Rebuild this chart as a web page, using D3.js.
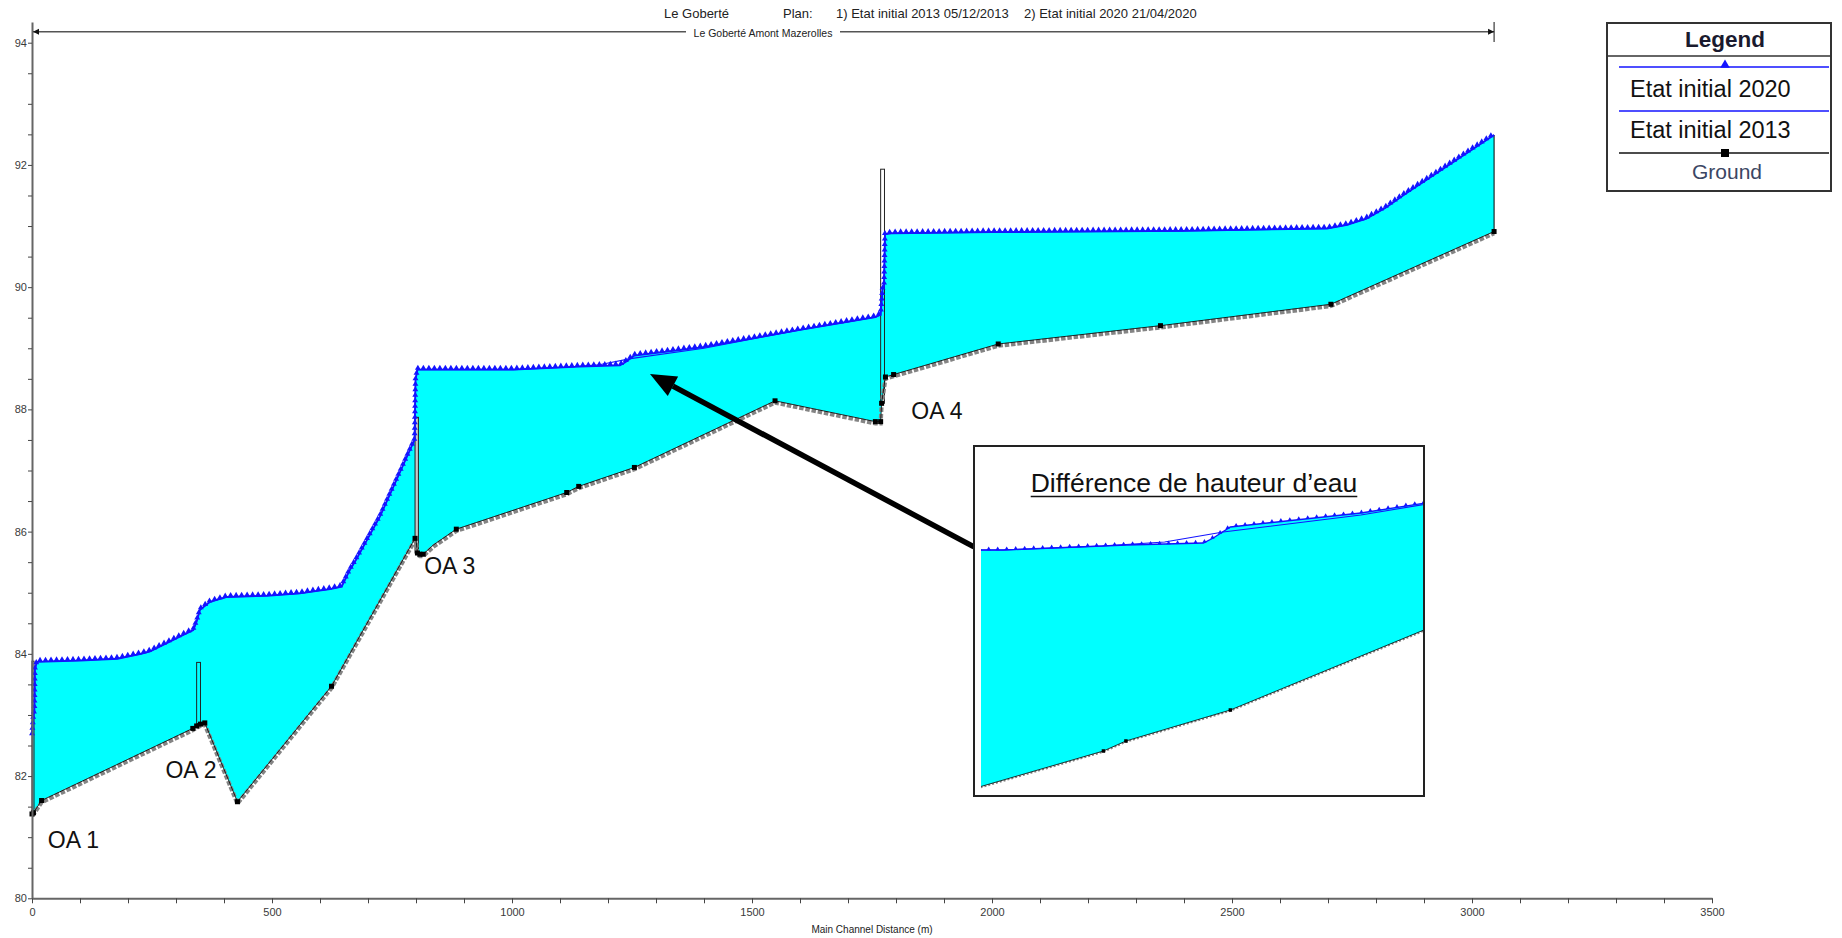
<!DOCTYPE html>
<html><head><meta charset="utf-8">
<script src="https://cdn.jsdelivr.net/npm/d3@7"></script>
<style>
body{margin:0;background:#fff;}
svg{display:block;}
text{font-family:"Liberation Sans",Arial,sans-serif;}
</style>
</head><body>
<svg id="c" width="1842" height="938"></svg>
<script>
// ---------------- DATA ----------------
const groundX = [0, 3, 20, 335, 343, 351, 360, 428, 624, 798, 800, 803, 808, 815, 836, 884, 1114, 1139, 1255, 1548, 1757, 1768, 1770, 1778, 1795, 2013, 2351, 2706, 3046];
const groundY = [81.38, 81.40, 81.60, 82.78, 82.82, 82.85, 82.87, 81.58, 83.47, 85.89, 85.87, 85.65, 85.63, 85.63, 85.78, 86.04, 86.64, 86.74, 87.05, 88.14, 87.80, 87.80, 88.10, 88.53, 88.57, 89.07, 89.37, 89.72, 90.91];
const groundMark = [1,1,1,1,1,1,1,1,1,1,0,1,1,1,0,1,1,1,1,1,1,1,1,1,1,1,1,1,1];

const wsX2020 = [0, 3, 5, 6, 10, 100, 178, 227, 246, 287, 315, 336, 343, 350, 371, 406, 489, 558, 621, 645, 662, 673, 725, 794, 797, 799, 803, 1003, 1140, 1225, 1236, 1255, 1400, 1600, 1757, 1768, 1772, 1775, 1777, 1790, 2000, 2400, 2698, 2740, 2780, 2820, 2860, 3046];
const wsY2020 = [82.67, 83.00, 83.05, 83.74, 83.87, 83.89, 83.92, 84.00, 84.04, 84.20, 84.31, 84.39, 84.53, 84.72, 84.85, 84.93, 84.95, 84.99, 85.06, 85.10, 85.37, 85.51, 86.25, 87.45, 87.50, 88.48, 88.65, 88.65, 88.70, 88.72, 88.77, 88.88, 89.02, 89.30, 89.51, 89.55, 89.97, 90.00, 90.87, 90.88, 90.90, 90.92, 90.96, 91.02, 91.12, 91.30, 91.52, 92.49];

const wsX2013 = [0, 3, 5, 6, 10, 100, 178, 227, 246, 287, 315, 336, 343, 350, 371, 406, 489, 558, 621, 645, 662, 673, 725, 794, 797, 799, 803, 1003, 1113, 1182, 1247, 1400, 1600, 1757, 1768, 1772, 1775, 1777, 1790, 2000, 2400, 2698, 2740, 2780, 2820, 2860, 3046];
const wsY2013 = [82.67, 83.00, 83.05, 83.74, 83.87, 83.89, 83.92, 84.00, 84.04, 84.20, 84.31, 84.39, 84.53, 84.72, 84.85, 84.93, 84.95, 84.99, 85.06, 85.10, 85.37, 85.51, 86.25, 87.45, 87.50, 88.48, 88.65, 88.65, 88.69, 88.73, 88.83, 89.00, 89.30, 89.51, 89.55, 89.97, 90.00, 90.87, 90.88, 90.90, 90.92, 90.96, 91.02, 91.12, 91.30, 91.52, 92.49];

const structNames = ["OA 1", "OA 2", "OA 3", "OA 4"];
const structStart = [0, 343, 798, 1768];
const structEnd = [4, 351, 805, 1776];
const structBottom = [81.38, 82.86, 85.65, 88.10];
const structTop = [83.88, 83.86, 87.87, 91.93];

const xTickValues = [0, 500, 1000, 1500, 2000, 2500, 3000, 3500];
const yTickValues = [80, 82, 84, 86, 88, 90, 92, 94];

const titleRiver = "Le Goberté";
const titlePlan = "Plan:";
const titlePlan1 = "1) Etat initial 2013 05/12/2013";
const titlePlan2 = "2) Etat initial 2020 21/04/2020";
const reachName = "Le Goberté Amont Mazerolles";
const xAxisTitle = "Main Channel Distance (m)";
const legendTitle = "Legend";
const legendLabels = ["Etat initial 2020", "Etat initial 2013", "Ground"];
const insetTitle = "Différence de hauteur d’eau";
const insetDomainX = [978, 1469];
const insetDomainY = [86.21, 89.70];

// ---------------- CHART ----------------
const svg = d3.select("#c");
const BLUE = "#1414ff", CYAN = "#00ffff";

const x = d3.scaleLinear([0, 3500], [32, 1712]);
const y = d3.scaleLinear([80, 94], [898.3, 42.7]);

const ground = groundX.map((d, i) => [d, groundY[i], groundMark[i]]);
const ws20 = wsX2020.map((d, i) => [d, wsY2020[i]]);
const ws13 = wsX2013.map((d, i) => [d, wsY2013[i]]);

function drawProfile(g, sx, sy, opt) {
  const line = d3.line().x(d => sx(d[0])).y(d => sy(d[1]));
  g.append("path")
    .attr("d", line(ws20.concat(ground.slice().reverse())) + "Z")
    .attr("fill", CYAN).attr("stroke", "none");
  const last = ws20.length - 1, lg = ground.length - 1;
  g.append("line")
    .attr("x1", sx(wsX2020[last])).attr("x2", sx(groundX[lg]))
    .attr("y1", sy(wsY2020[last])).attr("y2", sy(groundY[lg]))
    .attr("stroke", "#000").attr("stroke-width", 1);
  if (opt.structures) {
    structNames.forEach((n, i) => {
      g.append("rect")
        .attr("x", sx(structStart[i])).attr("y", sy(structTop[i]))
        .attr("width", Math.max(2, sx(structEnd[i]) - sx(structStart[i])))
        .attr("height", sy(structBottom[i]) - sy(structTop[i]))
        .attr("fill", i === 2 ? "#c8c8c8" : "none")
        .attr("stroke", "#222").attr("stroke-width", 1);
    });
  }
  g.append("path").attr("d", line(ground))
    .attr("transform", `translate(0,${opt.groundOff})`)
    .attr("fill", "none").attr("stroke", "#848484")
    .attr("stroke-width", opt.groundW).attr("stroke-dasharray", opt.groundDash);
  g.append("path").attr("d", line(ground))
    .attr("fill", "none").attr("stroke", "#000").attr("stroke-width", 0.8);
  g.selectAll(null).data(ground.filter(d => d[2] === 1)).enter().append("rect")
    .attr("x", d => sx(d[0]) - opt.sq / 2).attr("y", d => sy(d[1]) - opt.sq / 2)
    .attr("width", opt.sq).attr("height", opt.sq).attr("fill", "#000");
  g.append("path").attr("d", line(ws13))
    .attr("fill", "none").attr("stroke", BLUE).attr("stroke-width", 1.1);
  const p20 = g.append("path").attr("d", line(ws20))
    .attr("fill", "none").attr("stroke", BLUE).attr("stroke-width", opt.lw);
  const node = p20.node(), L = node.getTotalLength();
  const pts = [];
  for (let s = 0; s <= L; s += opt.spacing) pts.push(node.getPointAtLength(s));
  const tri = d3.symbol(d3.symbolTriangle, opt.tri)();
  g.selectAll(null).data(pts).enter().append("path")
    .attr("d", tri).attr("transform", d => `translate(${d.x},${d.y - opt.triOff})`)
    .attr("fill", BLUE);
}

const main = svg.append("g");
drawProfile(main, x, y, {structures: true, groundOff: 1.8, groundW: 4.2, groundDash: "4.5 1.8", sq: 5, spacing: 5.5, tri: 15, triOff: 1.5, lw: 1.8});

// axes
const yAx = y.copy().domain([80, y.invert(22)]).range([y(80), 22]);
const gy = svg.append("g").attr("transform", `translate(${x(0)},0)`)
  .call(d3.axisLeft(yAx).tickValues(d3.range(80, 94.01, 0.5)).tickSize(4).tickSizeOuter(0)
    .tickFormat(d => yTickValues.includes(d) ? d : ""));
const gx = svg.append("g").attr("transform", `translate(0,${y(80)})`)
  .call(d3.axisBottom(x).tickValues(d3.range(0, 3501, 100)).tickSize(5).tickSizeOuter(0)
    .tickFormat(d => xTickValues.includes(d) ? d : ""));
[gx, gy].forEach(g => {
  g.select(".domain").attr("stroke", "#666").attr("stroke-width", 2);
  g.selectAll(".tick line").attr("stroke", "#444");
  g.selectAll(".tick text").attr("fill", "#3a3a3a").style("font-size", "11px")
    .style("font-family", "'Liberation Sans',Arial,sans-serif");
});
gx.selectAll(".tick text").attr("dy", "0.9em");
gy.selectAll(".tick text").attr("x", -5);

svg.append("text").attr("x", x(1750)).attr("y", 933).attr("text-anchor", "middle")
  .style("font-size", "10px").attr("fill", "#222").text(xAxisTitle);

// title
const tY = 18;
svg.append("text").attr("x", 664).attr("y", tY).style("font-size", "13px").attr("fill", "#222").text(titleRiver);
svg.append("text").attr("x", 783).attr("y", tY).style("font-size", "13px").attr("fill", "#222").text(titlePlan);
svg.append("text").attr("x", 836).attr("y", tY).style("font-size", "13px").attr("fill", "#222").text(titlePlan1);
svg.append("text").attr("x", 1024).attr("y", tY).style("font-size", "13px").attr("fill", "#222").text(titlePlan2);

// reach arrow
const ry = 31.7;
const xr0 = x(0) + 1, xr1 = x(wsX2020[wsX2020.length - 1]);
svg.append("line").attr("x1", xr0).attr("x2", 686).attr("y1", ry).attr("y2", ry).attr("stroke", "#555").attr("stroke-width", 1.6);
svg.append("line").attr("x1", 840).attr("x2", xr1).attr("y1", ry).attr("y2", ry).attr("stroke", "#555").attr("stroke-width", 1.6);
svg.append("path").attr("d", `M${xr0},${ry} l6,-3 l0,6 Z`).attr("fill", "#111");
svg.append("path").attr("d", `M${xr1},${ry} l-6,-3 l0,6 Z`).attr("fill", "#111");
svg.append("line").attr("x1", xr1).attr("x2", xr1).attr("y1", 22).attr("y2", 42).attr("stroke", "#111").attr("stroke-width", 1);
svg.append("text").attr("x", 763).attr("y", 37).attr("text-anchor", "middle")
  .style("font-size", "10.5px").attr("fill", "#222").text(reachName);

// OA labels (data coordinates)
const labelPos = [[33, 80.82], [278, 81.97], [817, 85.31], [1832, 87.84]];
structNames.forEach((n, i) => {
  svg.append("text").attr("x", x(labelPos[i][0])).attr("y", y(labelPos[i][1]))
    .style("font-size", "23px").attr("fill", "#111").text(n);
});

// big arrow (data coordinates)
const aTail = [x(1962.5), y(85.75)], aTip = [x(1287.5), y(88.58)];
const ang = Math.atan2(aTip[1] - aTail[1], aTip[0] - aTail[0]);
const hl = 26, hw = 11;
const bx = aTip[0] - hl * Math.cos(ang), by = aTip[1] - hl * Math.sin(ang);
svg.append("line").attr("x1", aTail[0]).attr("y1", aTail[1]).attr("x2", bx).attr("y2", by)
  .attr("stroke", "#000").attr("stroke-width", 5.5);
svg.append("path").attr("d",
  `M${aTip[0]},${aTip[1]} L${bx + hw * Math.sin(ang)},${by - hw * Math.cos(ang)} L${bx - hw * Math.sin(ang)},${by + hw * Math.cos(ang)} Z`)
  .attr("fill", "#000");

// inset
const ib = {x: 974, y: 446, w: 450, h: 350};
svg.append("rect").attr("x", ib.x).attr("y", ib.y).attr("width", ib.w).attr("height", ib.h).attr("fill", "#fff");
const xi = d3.scaleLinear(insetDomainX, [981, 1423]);
const yi = d3.scaleLinear(insetDomainY, [794, 445]);
svg.append("clipPath").attr("id", "insetClip").append("rect")
  .attr("x", 981).attr("y", ib.y).attr("width", 1423 - 981).attr("height", ib.h);
const ig = svg.append("g").attr("clip-path", "url(#insetClip)");
drawProfile(ig, xi, yi, {structures: false, groundOff: 1.0, groundW: 1.6, groundDash: "2 2", sq: 3.5, spacing: 9, tri: 8, triOff: 1, lw: 1.4});
svg.append("rect").attr("x", ib.x).attr("y", ib.y).attr("width", ib.w).attr("height", ib.h)
  .attr("fill", "none").attr("stroke", "#222").attr("stroke-width", 2);
const it = svg.append("text").attr("x", 1194).attr("y", 492).attr("text-anchor", "middle")
  .style("font-size", "26.5px").attr("fill", "#111").text(insetTitle);
const itw = it.node().getComputedTextLength();
svg.append("line").attr("x1", 1194 - itw / 2).attr("x2", 1194 + itw / 2).attr("y1", 496.5).attr("y2", 496.5)
  .attr("stroke", "#111").attr("stroke-width", 1.6);

// legend
const lg = svg.append("g");
lg.append("rect").attr("x", 1607).attr("y", 23).attr("width", 224).attr("height", 168)
  .attr("fill", "#fff").attr("stroke", "#333").attr("stroke-width", 2);
lg.append("line").attr("x1", 1607).attr("x2", 1831).attr("y1", 56).attr("y2", 56).attr("stroke", "#333").attr("stroke-width", 1.5);
lg.append("text").attr("x", 1725).attr("y", 47).attr("text-anchor", "middle")
  .style("font-size", "22.5px").style("font-weight", "bold").attr("fill", "#1a1a2e").text(legendTitle);
lg.append("line").attr("x1", 1619).attr("x2", 1829).attr("y1", 67).attr("y2", 67).attr("stroke", BLUE).attr("stroke-width", 1.5);
lg.append("path").attr("d", d3.symbol(d3.symbolTriangle, 40)()).attr("transform", "translate(1725,65)").attr("fill", BLUE);
lg.append("text").attr("x", 1630).attr("y", 97).style("font-size", "23.5px").attr("fill", "#111").text(legendLabels[0]);
lg.append("line").attr("x1", 1619).attr("x2", 1829).attr("y1", 111).attr("y2", 111).attr("stroke", BLUE).attr("stroke-width", 1.5);
lg.append("text").attr("x", 1630).attr("y", 138).style("font-size", "23.5px").attr("fill", "#111").text(legendLabels[1]);
lg.append("line").attr("x1", 1619).attr("x2", 1829).attr("y1", 153).attr("y2", 153).attr("stroke", "#111").attr("stroke-width", 1.5);
lg.append("rect").attr("x", 1721).attr("y", 149).attr("width", 8).attr("height", 8).attr("fill", "#000");
lg.append("text").attr("x", 1727).attr("y", 179).attr("text-anchor", "middle")
  .style("font-size", "21px").attr("fill", "#3b4663").text(legendLabels[2]);
</script>
</body></html>
